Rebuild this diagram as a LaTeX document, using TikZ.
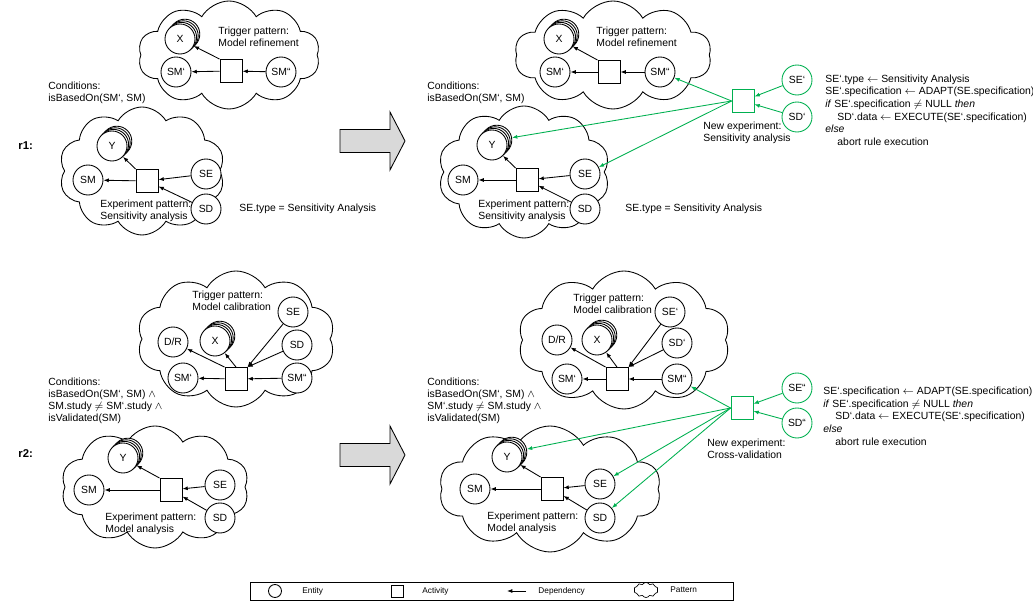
\documentclass[tikz,border=0pt]{standalone}
\usepackage{fontspec}
\setmainfont{Liberation Sans}
\usetikzlibrary{shapes.symbols,arrows.meta,calc,positioning}
\newcommand{\myunit}{0.75pt}
\definecolor{newgreen}{RGB}{0,176,80}
\tikzset{
    entsty/.style={draw,fill=white,circle,minimum size=30*\myunit,inner sep=0pt},
    actsty/.style={draw,fill=white,rectangle,minimum width=22*\myunit,minimum height=23*\myunit,inner sep=0pt},
    patsty/.style={draw,cloud,cloud puffs=10,cloud puff arc=120,cloud ignores aspect,inner sep=0pt},
    newsty/.style={draw=newgreen},
    newdepsty/.style={->,draw=newgreen},
    txtsty/.style={anchor=west,align=left,inner sep=0pt},
    rulesty/.style={anchor=west,inner sep=0pt,font=\bfseries\fontsize{8.5}{10}\selectfont},
    codesty/.style={txtsty,font=\fontsize{7.8}{9.5}\selectfont},
    bigarrsty/.style={draw,fill=gray!30},
    legsty/.style={font=\fontsize{6.2}{7}\selectfont},
}
% entity with several instances behind it
\newcommand{\multient}[4]{%
  \foreach \k in {3,2,1}
    \node[entsty] (#1\k) at (#2+1.6*\k,#3-1.6*\k) {};
  \node[entsty] (#1) at (#2,#3) {#4};
}

\begin{document}
\begin{tikzpicture}[x=\myunit,y=-\myunit,>={Latex[length=4pt,width=3pt]},line width=0.65pt,
                    font=\fontsize{7.8}{9}\selectfont]
  \useasboundingbox (0,0) rectangle (1033,605);

  % r1, left side
  \node[patsty,minimum width=182*\myunit,minimum height=108*\myunit] (aT) at (229,55) {};
  \node[patsty,minimum width=166*\myunit,minimum height=128*\myunit] (aE) at (142,171) {};
  \multient{aX}{180}{39}{X}
  \node[entsty] (aSMp) at (176,72) {SM`};
  \node[actsty] (aAct) at (231,71) {};
  \node[entsty] (aSMpp) at (281,72) {SM``};
  \node[txtsty] (aTlbl) at (218,37) {Trigger pattern:\\Model refinement};
  \draw[->] (aAct) -- (aSMp);
  \draw[->] (aAct.north west) -- (aX);
  \draw[->] (aSMpp) -- (aAct);

  \multient{aY}{112}{146}{Y}
  \node[entsty] (aSM) at (88,180) {SM};
  \node[actsty] (aExp) at (147,181) {};
  \node[entsty] (aSE) at (206,174) {SE};
  \node[entsty] (aSD) at (206,209) {SD};
  \node[txtsty] (aElbl) at (100,211) {Experiment pattern:\\Sensitivity analysis};
  \draw[->] (aExp) -- (aSM);
  \draw[->] (aExp.north west) -- (aY);
  \draw[->] (aSE) -- (aExp);
  \draw[->] (aSD) -- (aExp);
  \node[txtsty] (aType) at (239,209) {SE.type = Sensitivity Analysis};
  \node[txtsty] (aCond) at (48,93) {Conditions:\\isBasedOn(SM`, SM)};
  \node[rulesty] (rone) at (18,146) {r1:};

  % r1, right side
  \node[patsty,minimum width=197*\myunit,minimum height=108*\myunit] (bT) at (613,55) {};
  \node[patsty,minimum width=172*\myunit,minimum height=132*\myunit] (bE) at (524,172) {};
  \multient{bX}{559}{39}{X}
  \node[entsty] (bSMp) at (555,72) {SM`};
  \node[actsty] (bAct) at (609,72) {};
  \node[entsty] (bSMpp) at (660,72) {SM``};
  \node[txtsty] (bTlbl) at (596,37) {Trigger pattern:\\Model refinement};
  \draw[->] (bAct) -- (bSMp);
  \draw[->] (bAct.north west) -- (bX);
  \draw[->] (bSMpp) -- (bAct);

  \multient{bY}{492}{145}{Y}
  \node[entsty] (bSM) at (463,180) {SM};
  \node[actsty] (bExp) at (527,180) {};
  \node[entsty] (bSE) at (585,174) {SE};
  \node[entsty] (bSD) at (585,209) {SD};
  \node[txtsty] (bElbl) at (478,211) {Experiment pattern:\\Sensitivity analysis};
  \draw[->] (bExp) -- (bSM);
  \draw[->] (bExp.north west) -- (bY);
  \draw[->] (bSE) -- (bExp);
  \draw[->] (bSD) -- (bExp);
  \node[txtsty] (bType) at (625,209) {SE.type = Sensitivity Analysis};
  \node[txtsty] (bCond) at (427,93) {Conditions:\\isBasedOn(SM`, SM)};

  \node[actsty,newsty] (bNew) at (743,101) {};
  \node[entsty,newsty] (bSEp) at (797,80) {SE`};
  \node[entsty,newsty] (bSDp) at (797,117) {SD`};
  \node[txtsty] (bNlbl) at (703,133) {New experiment:\\Sensitivity analysis};
  \draw[newdepsty] (bSEp) -- (bNew);
  \draw[newdepsty] (bSDp) -- (bNew);
  \draw[newdepsty] (bNew.west) -- (bSMpp);
  \draw[newdepsty] (bNew.west) -- (bY3);
  \draw[newdepsty] (bNew.west) -- (bSE);
  \node[codesty] (bCode) at (825,110) {SE`.type $\leftarrow$ Sensitivity Analysis\\
    SE`.specification $\leftarrow$ ADAPT(SE.specification)\\
    \textit{if} SE`.specification $\neq$ NULL \textit{then}\\
    \hspace*{9pt}SD`.data $\leftarrow$ EXECUTE(SE`.specification)\\
    \textit{else}\\
    \hspace*{9pt}abort rule execution};

  % r2, left side
  \node[patsty,minimum width=198*\myunit,minimum height=136*\myunit] (cT) at (236,339) {};
  \node[patsty,minimum width=188*\myunit,minimum height=122*\myunit] (cE) at (155,487) {};
  \node[txtsty] (cTlbl) at (192,301) {Trigger pattern:\\Model calibration};
  \node[entsty] (cTSE) at (293,312) {SE};
  \node[entsty] (cDR) at (173,342) {D/R};
  \multient{cX}{215}{341}{X}
  \node[entsty] (cTSD) at (297,345) {SD};
  \node[entsty] (cSMp) at (183,378) {SM`};
  \node[actsty] (cAct) at (236,379) {};
  \node[entsty] (cSMpp) at (297,378) {SM``};
  \draw[->] (cAct) -- (cSMp);
  \draw[->] (cAct.north west) -- (cDR);
  \draw[->] (cAct.north) -- (cX);
  \draw[->] (cTSE) -- (cAct.north east);
  \draw[->] (cTSD) -- (cAct.north east);
  \draw[->] (cSMpp) -- (cAct);

  \multient{cY}{123}{458}{Y}
  \node[entsty] (cSM) at (89,490) {SM};
  \node[actsty] (cExp) at (171,490) {};
  \node[entsty] (cSE) at (220,485) {SE};
  \node[entsty] (cSD) at (220,518) {SD};
  \node[txtsty] (cElbl) at (105,524) {Experiment pattern:\\Model analysis};
  \draw[->] (cExp) -- (cSM);
  \draw[->] (cExp.north west) -- (cY);
  \draw[->] (cSE) -- (cExp);
  \draw[->] (cSD) -- (cExp);
  \node[txtsty] (cCond) at (48,401) {Conditions:\\isBasedOn(SM`, SM) $\wedge$\\SM.study $\neq$ SM`.study $\wedge$\\isValidated(SM)};
  \node[rulesty] (rtwo) at (18,454) {r2:};

  % r2, right side
  \node[patsty,minimum width=212*\myunit,minimum height=138*\myunit] (dT) at (624,340) {};
  \node[patsty,minimum width=222*\myunit,minimum height=126*\myunit] (dE) at (550,489) {};
  \node[txtsty] (dTlbl) at (573,304) {Trigger pattern:\\Model calibration};
  \node[entsty] (dTSE) at (670,312) {SE`};
  \node[entsty] (dDR) at (557,340) {D/R};
  \multient{dX}{597}{340}{X}
  \node[entsty] (dTSD) at (677,343) {SD`};
  \node[entsty] (dSMp) at (567,379) {SM`};
  \node[actsty] (dAct) at (617,379) {};
  \node[entsty] (dSMpp) at (677,379) {SM``};
  \draw[->] (dAct) -- (dSMp);
  \draw[->] (dAct.north west) -- (dDR);
  \draw[->] (dAct.north) -- (dX);
  \draw[->] (dTSE) -- (dAct.north east);
  \draw[->] (dTSD) -- (dAct.north east);
  \draw[->] (dSMpp) -- (dAct);

  \multient{dY}{507}{457}{Y}
  \node[entsty] (dSM) at (475,489) {SM};
  \node[actsty] (dExp) at (552,489) {};
  \node[entsty] (dSE) at (600,484) {SE};
  \node[entsty] (dSD) at (600,518) {SD};
  \node[txtsty] (dElbl) at (487,523) {Experiment pattern:\\Model analysis};
  \draw[->] (dExp) -- (dSM);
  \draw[->] (dExp.north west) -- (dY);
  \draw[->] (dSE) -- (dExp);
  \draw[->] (dSD) -- (dExp);
  \node[txtsty] (dCond) at (427,401) {Conditions:\\isBasedOn(SM`, SM) $\wedge$\\SM`.study $\neq$ SM.study $\wedge$\\isValidated(SM)};

  \node[actsty,newsty] (dNew) at (742,408) {};
  \node[entsty,newsty] (dSEpp) at (797,388) {SE``};
  \node[entsty,newsty] (dSDpp) at (797,423) {SD``};
  \node[txtsty] (dNlbl) at (707,449) {New experiment:\\Cross-validation};
  \draw[newdepsty] (dSEpp) -- (dNew);
  \draw[newdepsty] (dSDpp) -- (dNew);
  \draw[newdepsty] (dNew.west) -- (dSMpp);
  \draw[newdepsty] (dNew.west) -- (dY3);
  \draw[newdepsty] (dNew.west) -- (dSE);
  \draw[newdepsty] (dNew.west) -- (dSD);
  \node[codesty] (dCode) at (823,416) {SE`.specification $\leftarrow$ ADAPT(SE.specification)\\
    \textit{if} SE`.specification $\neq$ NULL \textit{then}\\
    \hspace*{9pt}SD`.data $\leftarrow$ EXECUTE(SE`.specification)\\
    \textit{else}\\
    \hspace*{9pt}abort rule execution};

  % big arrows between the sides
  \foreach \yc in {141,455}
    \draw[bigarrsty] (340,\yc-11.5) -- (390,\yc-11.5) -- (390,\yc-29) -- (405,\yc)
      -- (390,\yc+29) -- (390,\yc+11.5) -- (340,\yc+11.5) -- cycle;

  % legend
  \node[draw,line width=0.5pt,minimum width=483*\myunit,minimum height=18*\myunit,inner sep=0pt] (leg) at (491.5,591) {};
  \node[entsty,minimum size=13*\myunit] (legEnt) at (275,591) {};
  \node[txtsty,legsty] (legEntlbl) at (302,591) {Entity};
  \node[actsty,minimum width=12*\myunit,minimum height=12*\myunit] (legAct) at (397,591) {};
  \node[txtsty,legsty] (legActlbl) at (422,591) {Activity};
  \coordinate (legDepA) at (526,591);
  \coordinate (legDepB) at (507,591);
  \draw[->] (legDepA) -- (legDepB);
  \node[txtsty,legsty] (legDeplbl) at (538,591) {Dependency};
  \node[patsty,line width=0.5pt,minimum width=24*\myunit,minimum height=15*\myunit] (legPat) at (646,590) {};
  \node[txtsty,legsty] (legPatlbl) at (670,590) {Pattern};
\end{tikzpicture}
\end{document}
